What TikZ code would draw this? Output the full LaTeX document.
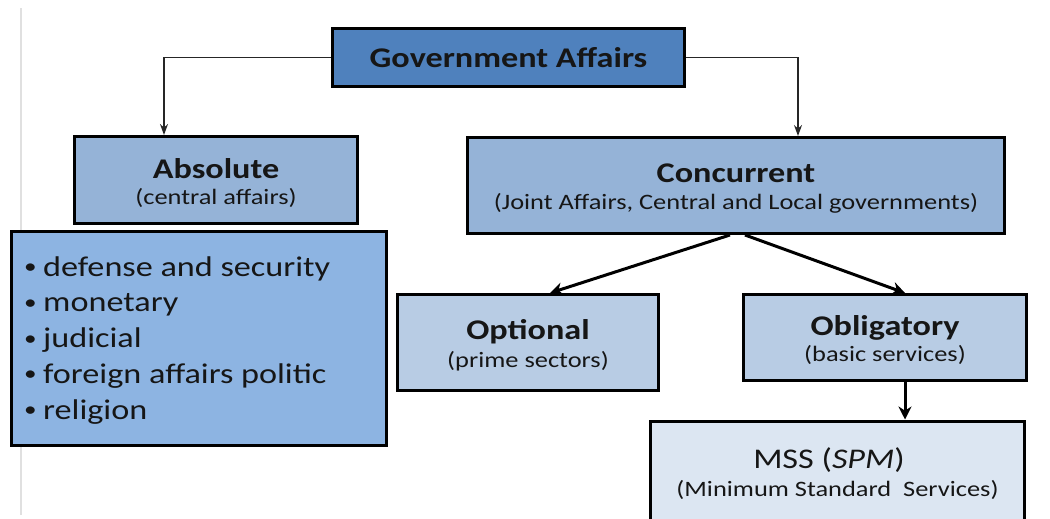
\documentclass[tikz,border=0pt]{standalone}
\usepackage{fontspec}
\setmainfont{Carlito}[FakeStretch=1.2]
\usetikzlibrary{arrows.meta}
\definecolor{govblue}{RGB}{79,129,189}
\definecolor{midblue}{RGB}{149,179,215}
\definecolor{listblue}{RGB}{141,180,226}
\definecolor{lightblue}{RGB}{184,204,228}
\definecolor{paleblue}{RGB}{220,230,242}
\definecolor{txt}{RGB}{22,22,22}
\newcommand{\mybul}{\makebox[19pt][l]{\raisebox{2.5pt}{\fontsize{21}{21}\selectfont •}}}
\begin{document}
\begin{tikzpicture}[x=1pt,y=-1pt,
  box/.style={draw=black, line width=3pt, inner sep=0pt},
  head/.style={anchor=base, inner sep=0pt, text=txt, font=\fontsize{28.5}{30}\selectfont},
  sub/.style={anchor=base, inner sep=0pt, text=txt, font=\fontsize{22}{24}\selectfont},
  item/.style={anchor=base west, inner sep=0pt, text=txt, font=\fontsize{28.5}{30}\selectfont},
  thinarrow/.style={line width=1.3pt, draw=black!85, -{Stealth[length=11pt,width=8pt]}},
  thickarrow/.style={line width=3pt, draw=black, -{Stealth[length=13pt,width=13pt]}}]
\useasboundingbox (0,0) rectangle (1050,519);
% faint page edge line
\draw[line width=1.5pt, draw=black!12] (21,8) -- (21,515);
% boxes
\node[box, fill=govblue, minimum width=352pt, minimum height=58pt] (gov) at (508.5,57.5) {};
\node[box, fill=midblue, minimum width=283pt, minimum height=87pt] (abs) at (216,180) {};
\node[box, fill=listblue, minimum width=375pt, minimum height=214pt] (list) at (199,338.5) {};
\node[box, fill=midblue, minimum width=537pt, minimum height=96pt] (conc) at (736,185.5) {};
\node[box, fill=lightblue, minimum width=261pt, minimum height=96pt] (opt) at (528,342.5) {};
\node[box, fill=lightblue, minimum width=283pt, minimum height=86pt] (obl) at (885,337.5) {};
\node[box, fill=paleblue, minimum width=374pt, minimum height=104pt] (mss) at (837.5,473) {};
% texts
\node[head, font=\bfseries\fontsize{28.5}{30}\selectfont] (govt) at (508.5,67) {Government Affairs};
\node[head, font=\bfseries\fontsize{28.5}{30}\selectfont] (abst) at (216,178) {Absolute};
\node[sub] (abss) at (216,204) {(central affairs)};
\node[head, font=\bfseries\fontsize{28.5}{30}\selectfont] (conct) at (736,182) {Concurrent};
\node[sub] (concs) at (736,209) {(Joint Affairs, Central and Local governments)};
\node[head, font=\bfseries\fontsize{28.5}{30}\selectfont] (optt) at (528,339) {Optional};
\node[sub] (opts) at (528,367) {(prime sectors)};
\node[head, font=\bfseries\fontsize{28.5}{30}\selectfont] (oblt) at (885,335) {Obligatory};
\node[sub] (obls) at (885,361) {(basic services)};
\node[head] (msst) at (829,468) {MSS (\textit{SPM})};
\node[sub] (msss) at (837.5,496) {(Minimum Standard\ \ Services)};
\node[item] (l1) at (24,276) {\mybul defense and security};
\node[item] (l2) at (24,311.75) {\mybul monetary};
\node[item] (l3) at (24,347.5) {\mybul judicial};
\node[item] (l4) at (24,383.25) {\mybul foreign affairs politic};
\node[item] (l5) at (24,419) {\mybul religion};
% connectors
\draw[thinarrow] (gov.west) -| ([xshift=-52pt]abs.north);
\draw[thinarrow] (gov.east) -| ([xshift=62pt]conc.north);
\draw[thickarrow] ([xshift=-6pt]conc.south) -- ([xshift=22pt]opt.north);
\draw[thickarrow] ([xshift=9pt]conc.south) -- ([xshift=20pt]obl.north);
\draw[thickarrow] ([xshift=20pt]obl.south) -- ([xshift=20pt]obl.south |- mss.north);
\end{tikzpicture}
\end{document}
